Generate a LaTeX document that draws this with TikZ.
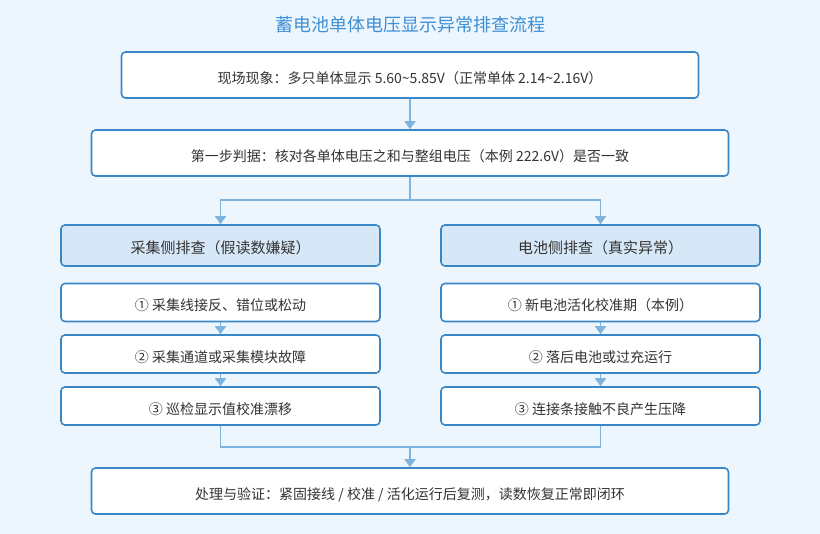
\documentclass[tikz,border=0pt]{standalone}
\usepackage{fontspec}
\setmainfont{Noto Sans CJK SC}
\usetikzlibrary{arrows.meta}
\definecolor{bgblue}{HTML}{EEF6FD}
\definecolor{edgeblue}{HTML}{3A87C8}
\definecolor{linkblue}{HTML}{7DB3DD}
\definecolor{headfill}{HTML}{D6E8F7}
\definecolor{titleblue}{HTML}{3D8FD6}
\definecolor{txt}{HTML}{333333}
\newcommand{\stepnode}[5]{\node[box, minimum width=#4, fill=#5] (#1) at (#2) {#3};}
\tikzset{
  box/.style={draw=edgeblue, line width=1.6pt, rounded corners=4pt, text=txt,
    font=\fontsize{14pt}{16pt}\selectfont, minimum height=46pt, inner sep=0pt,
    text height=19pt, text depth=2.5pt},
  headbox/.style={box, minimum width=319pt, minimum height=41pt, fill=headfill,
    font=\fontsize{15pt}{17pt}\selectfont},
  itembox/.style={box, minimum width=319pt, minimum height=38pt, fill=white},
  link/.style={draw=linkblue, line width=1.8pt},
  arrow/.style={link, -{Triangle[width=11pt,length=8pt]}}
}
\begin{document}
\begin{tikzpicture}[x=1pt, y=-1pt]
  \fill[bgblue] (0,0) rectangle (820,534);
  \useasboundingbox (0,0) rectangle (820,534);

  \node[text=titleblue, font=\fontsize{18pt}{20pt}\selectfont] (title) at (410,25) {蓄电池单体电压显示异常排查流程};

  % Top boxes
  % ---------
  \stepnode{scene}{410,75}{现场现象：多只单体显示 5.60\textasciitilde5.85V（正常单体 2.14\textasciitilde2.16V）}{577pt}{white}
  \stepnode{check}{410,153}{第一步判据：核对各单体电压之和与整组电压（本例 222.6V）是否一致}{637pt}{white}

  % Left column
  % -----------
  \node[headbox] (acqH) at (220.5,245.5) {采集侧排查（假读数嫌疑）};
  \foreach \i/\y/\t in {1/302.5/① 采集线接反、错位或松动,
                        2/354/② 采集通道或采集模块故障,
                        3/406/③ 巡检显示值校准漂移}
  \node[itembox] (acq\i) at (220.5,\y) {\t};

  % Right column
  % ------------
  \node[headbox] (batH) at (600.5,245.5) {电池侧排查（真实异常）};
  \foreach \i/\y/\t in {1/302.5/① 新电池活化校准期（本例）,
                        2/354/② 落后电池或过充运行,
                        3/406/③ 连接条接触不良产生压降}
  \node[itembox] (bat\i) at (600.5,\y) {\t};

  % Bottom box
  % ----------
  \stepnode{fix}{410,491}{处理与验证：紧固接线 / 校准 / 活化运行后复测，读数恢复正常即闭环}{637pt}{white}

  % Connectors
  % ----------
  \coordinate (split) at (410,200);
  \coordinate (merge) at (410,447);

  \draw[arrow] (scene) -- (check);
  \draw[link] (check.south) -- (split);
  \draw[arrow] (split) -| (acqH.north);
  \draw[arrow] (split) -| (batH.north);

  \foreach \i [evaluate=\i as \si using int(\i+1)] in {1, 2}{
    \draw[arrow] (acq\i) -- (acq\si);
    \draw[arrow] (bat\i) -- (bat\si);
  }

  \draw[link] (acq3.south) |- (merge);
  \draw[link] (bat3.south) |- (merge);
  \draw[arrow] (merge) -- (fix.north);
\end{tikzpicture}
\end{document}
